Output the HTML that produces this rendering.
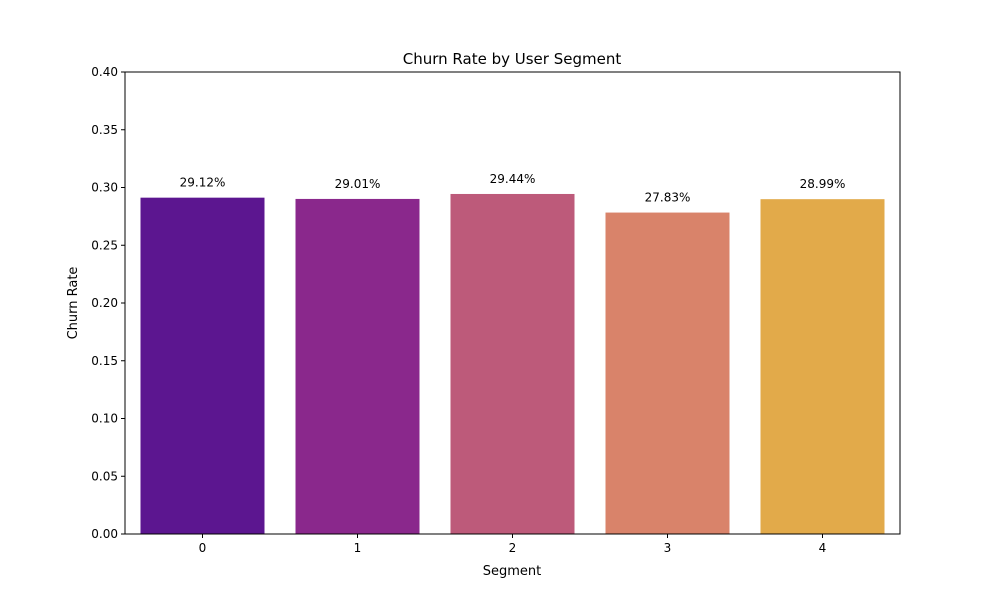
<!DOCTYPE html>
<html><head><meta charset="utf-8"><style>
body{margin:0;background:#fff}
svg text{font-family:"DejaVu Sans","Liberation Sans",sans-serif;fill:#000}
</style></head><body>
<svg id="chart" width="1000" height="600" viewBox="0 0 1000 600" xmlns="http://www.w3.org/2000/svg">
<rect width="1000" height="600" fill="#fff"/>
<text x="512" y="64" text-anchor="middle" font-size="15">Churn Rate by User Segment</text>
<g id="bars"></g><g id="yticks"></g><g id="xticks"></g>
<rect x="125" y="72" width="775" height="462" fill="none" stroke="#000" stroke-width="1"/>
<text x="512" y="575" text-anchor="middle" font-size="13">Segment</text>
<text transform="translate(77,303) rotate(-90)" text-anchor="middle" font-size="13">Churn Rate</text>
</svg>
<script>
const categories=["0","1","2","3","4"];
const churnRates=[0.2912,0.2901,0.2944,0.2783,0.2899];
const valueLabels=["29.12%","29.01%","29.44%","27.83%","28.99%"];
const yTicks=[0,0.05,0.10,0.15,0.20,0.25,0.30,0.35,0.40];
const colors=["#5c1690","#8a288c","#bd5a7a","#d9836a","#e2aa4a"];
const ns="http://www.w3.org/2000/svg";
const L=125,R=900,T=72,B=534,yMax=0.4;
const y=v=>B-(v/yMax)*(B-T);
const band=(R-L)/categories.length;
const x=i=>L+band*i+band/2;
function mk(tag,attrs,parent){const e=document.createElementNS(ns,tag);for(const k in attrs)e.setAttribute(k,attrs[k]);parent.appendChild(e);return e;}
const gb=document.getElementById('bars'),gy=document.getElementById('yticks'),gx=document.getElementById('xticks');
churnRates.forEach((v,i)=>{
  const w=band*0.8;
  const r=mk('rect',{x:x(i)-w/2,y:y(v),width:w,height:B-y(v),fill:colors[i]},gb);
  
  
  const t=mk('text',{x:x(i),y:y(v)-11,'text-anchor':'middle','font-size':'12'},gb);
  t.textContent=valueLabels[i];
  
  
  const tk=mk('line',{x1:x(i),x2:x(i),y1:B,y2:B+4,stroke:'#000'},gx);
  
  
  const tl=mk('text',{x:x(i),y:B+18,'text-anchor':'middle','font-size':'12'},gx);
  tl.textContent=categories[i];
  
  
});
yTicks.forEach(v=>{
  const tk=mk('line',{x1:L-4,x2:L,y1:y(v),y2:y(v),stroke:'#000'},gy);
  
  
  const tl=mk('text',{x:L-7,y:y(v)+4,'text-anchor':'end','font-size':'12'},gy);
  tl.textContent=v.toFixed(2);
  
  
});
</script>
</body></html>
